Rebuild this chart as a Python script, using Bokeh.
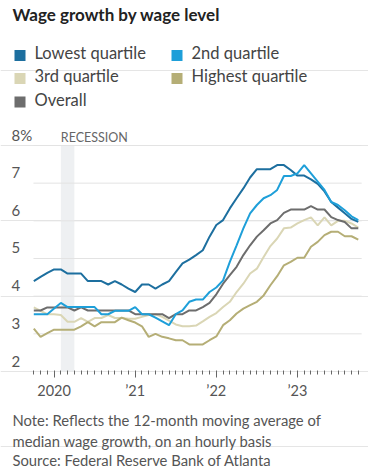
from bokeh.plotting import figure
from bokeh.models import Range1d, FixedTicker, Label, BoxAnnotation
from bokeh.embed import file_html
from bokeh.resources import INLINE

# ---------------- data ----------------
# monthly index: 0 = Oct 2019 ... 48 = Oct 2023
months = list(range(49))

lowest = [4.40, 4.51, 4.62, 4.71, 4.71, 4.60, 4.60, 4.60, 4.40, 4.40,
          4.40, 4.31, 4.40, 4.31, 4.20, 4.11, 4.31, 4.31, 4.20, 4.31,
          4.40, 4.64, 4.87, 4.97, 5.09, 5.22, 5.58, 5.89, 6.02, 6.33,
          6.60, 6.86, 7.15, 7.37, 7.37, 7.37, 7.48, 7.48, 7.35, 7.20,
          7.20, 7.10, 6.98, 6.78, 6.50, 6.35, 6.20, 6.05, 5.97]

second = [3.52, 3.52, 3.52, 3.67, 3.82, 3.71, 3.71, 3.71, 3.71, 3.71,
          3.52, 3.52, 3.61, 3.61, 3.61, 3.71, 3.52, 3.52, 3.43, 3.33,
          3.23, 3.52, 3.62, 3.85, 3.91, 3.91, 4.11, 4.23, 4.42, 4.91,
          5.35, 5.80, 6.20, 6.42, 6.60, 6.68, 6.82, 7.19, 7.19, 7.26,
          7.48, 7.26, 7.04, 6.82, 6.50, 6.42, 6.28, 6.12, 6.02]

third = [3.70, 3.61, 3.52, 3.52, 3.50, 3.32, 3.32, 3.42, 3.32, 3.42,
         3.42, 3.50, 3.42, 3.42, 3.40, 3.40, 3.45, 3.50, 3.52, 3.45,
         3.35, 3.25, 3.20, 3.20, 3.22, 3.33, 3.45, 3.55, 3.71, 3.85,
         4.11, 4.33, 4.60, 4.73, 5.04, 5.33, 5.53, 5.80, 5.82, 5.93,
         6.02, 6.09, 5.88, 6.09, 5.88, 6.00, 6.00, 5.93, 5.82]

highest = [3.14, 2.92, 3.02, 3.11, 3.11, 3.11, 3.11, 3.20, 3.31, 3.20,
           3.31, 3.31, 3.31, 3.43, 3.36, 3.30, 3.20, 2.92, 3.00, 2.92,
           2.88, 2.83, 2.83, 2.72, 2.72, 2.72, 2.83, 2.93, 3.23, 3.36,
           3.54, 3.67, 3.76, 3.85, 4.02, 4.29, 4.53, 4.82, 4.91, 5.02,
           5.02, 5.31, 5.44, 5.62, 5.71, 5.71, 5.59, 5.59, 5.50]

overall = [3.62, 3.62, 3.70, 3.70, 3.70, 3.70, 3.62, 3.70, 3.62, 3.62,
           3.62, 3.62, 3.62, 3.62, 3.62, 3.52, 3.52, 3.52, 3.52, 3.52,
           3.42, 3.52, 3.52, 3.62, 3.62, 3.71, 3.82, 4.05, 4.33, 4.56,
           4.78, 5.09, 5.35, 5.58, 5.75, 5.93, 6.02, 6.21, 6.30, 6.30,
           6.30, 6.39, 6.30, 6.30, 6.10, 6.02, 5.97, 5.80, 5.80]

series_names = ["Lowest quartile", "2nd quartile", "3rd quartile", "Highest quartile", "Overall"]
series_colors = ["#1d6f9f", "#1e9fd9", "#dad6b5", "#b5ae76", "#6d6d6d"]

recession_start = 4   # Feb 2020
recession_end = 6     # Apr 2020

y_ticks = [3, 4, 5, 6, 7, 8]
y_labels_all = [2, 3, 4, 5, 6, 7, 8]
y_label_text = ["2", "3", "4", "5", "6", "7", "8%"]
x_major_ticks = [3, 15, 27, 39]
x_tick_labels = ["2020", "\u201921", "\u201922", "\u201923"]

title_text = "Wage growth by wage level"
note_lines = ["Note: Reflects the 12-month moving average of",
              "median wage growth, on an hourly basis",
              "Source: Federal Reserve Bank of Atlanta"]

FONT = "Lato"
W, H = 368, 476
# plot-area scale: x in months, y in percent (frame covers whole canvas)
PX_PER_MONTH = 6.76
PX_PER_PCT = 37.67
X0_PX = 33.3     # page x of first month
Y2_PX = 371.0    # page y of 2%
TEXT_SHIFT = 7   # renderer draws alphabetic baselines a little low

x_range = Range1d(-X0_PX / PX_PER_MONTH, (W - X0_PX) / PX_PER_MONTH)
y_range = Range1d(2 - (H - Y2_PX) / PX_PER_PCT, 2 + Y2_PX / PX_PER_PCT)

p = figure(width=W, height=H, x_range=x_range, y_range=y_range,
           output_backend="svg", toolbar_location=None, y_axis_location=None,
           min_border_left=0, min_border_right=0, min_border_top=0, min_border_bottom=0)
p.outline_line_color = None
p.background_fill_color = "white"
p.border_fill_color = "white"
p.xgrid.visible = False

# recession band
p.add_layout(BoxAnnotation(left=recession_start, right=recession_end, bottom=2, top=8,
                           fill_color="#eef0f2", fill_alpha=1, line_color=None, level="underlay"))

# horizontal gridlines across the plotted months
grid_x0 = [months[0] - 0.05] * len(y_ticks)
grid_x1 = [months[-1] + 0.5] * len(y_ticks)
p.segment(x0=grid_x0, y0=y_ticks, x1=grid_x1, y1=y_ticks, line_color="#e3e3e3", line_width=1)

# x axis drawn at the 2% level
ax = p.xaxis[0]
ax.fixed_location = 2
ax.ticker = FixedTicker(ticks=x_major_ticks, minor_ticks=months)
ax.major_label_overrides = {t: l for t, l in zip(x_major_ticks, x_tick_labels)}
ax.axis_line_color = None
ax.major_tick_line_color = "#666666"
ax.minor_tick_line_color = "#666666"
ax.major_tick_in = 0
ax.major_tick_out = 6
ax.minor_tick_in = 1
ax.minor_tick_out = 3
ax.major_label_text_font = FONT
ax.major_label_text_font_size = "14.5px"
ax.major_label_text_color = "#555555"
ax.major_label_standoff = 4

data = {"Lowest quartile": lowest, "2nd quartile": second, "3rd quartile": third,
        "Highest quartile": highest, "Overall": overall}
color_of = dict(zip(series_names, series_colors))
for name in ["3rd quartile", "Highest quartile", "Overall", "Lowest quartile", "2nd quartile"]:
    p.line(months, data[name], line_width=2, line_color=color_of[name])


def label(text, px, py, size, color, bold=False):
    p.add_layout(Label(x=px, y=H - py + TEXT_SHIFT, x_units="screen", y_units="screen", text=text,
                       text_font=FONT, text_font_size=size, text_color=color,
                       text_font_style="bold" if bold else "normal",
                       text_baseline="alphabetic", text_align="left"))


# y tick labels sitting above gridlines
for v, t in zip(y_labels_all, y_label_text):
    p.add_layout(Label(x=11, y=v, x_units="screen", y_units="data", y_offset=2.5 + TEXT_SHIFT + 1,
                       text=t, text_font=FONT, text_font_size="15px", text_color="#555555",
                       text_baseline="alphabetic"))
p.add_layout(Label(x=recession_start, y=8, x_units="data", y_units="data",
                   y_offset=2.5 + TEXT_SHIFT - 2,
                   text="RECESSION", text_font=FONT, text_font_size="12.5px",
                   text_color="#666666", text_baseline="alphabetic"))

# title
label(title_text, 12, 21, "17px", "#222222", bold=True)

# legend
legend_pos = [(14, 34, 49.5, 60.5, 59.3), (171, 191, 49.5, 60.5, 59.3),
              (14, 34, 72.5, 83.5, 82.8), (171, 191, 72.5, 83.5, 82.8),
              (14, 34, 96, 107, 106)]
for name, (sx, tx, top, bot, base) in zip(series_names, legend_pos):
    p.add_layout(BoxAnnotation(left=sx, right=sx + 11, top=H - top, bottom=H - bot,
                               left_units="screen", right_units="screen",
                               top_units="screen", bottom_units="screen",
                               fill_color=color_of[name], fill_alpha=1, line_color=None))
    label(name, tx, base, "16.5px", "#444444")

# notes
for line_text, base in zip(note_lines, [426.5, 447.5, 466]):
    label(line_text, 12, base, "14.8px", "#555555")

open("out.html", "w").write(file_html(p, INLINE, "Wage growth by wage level"))
